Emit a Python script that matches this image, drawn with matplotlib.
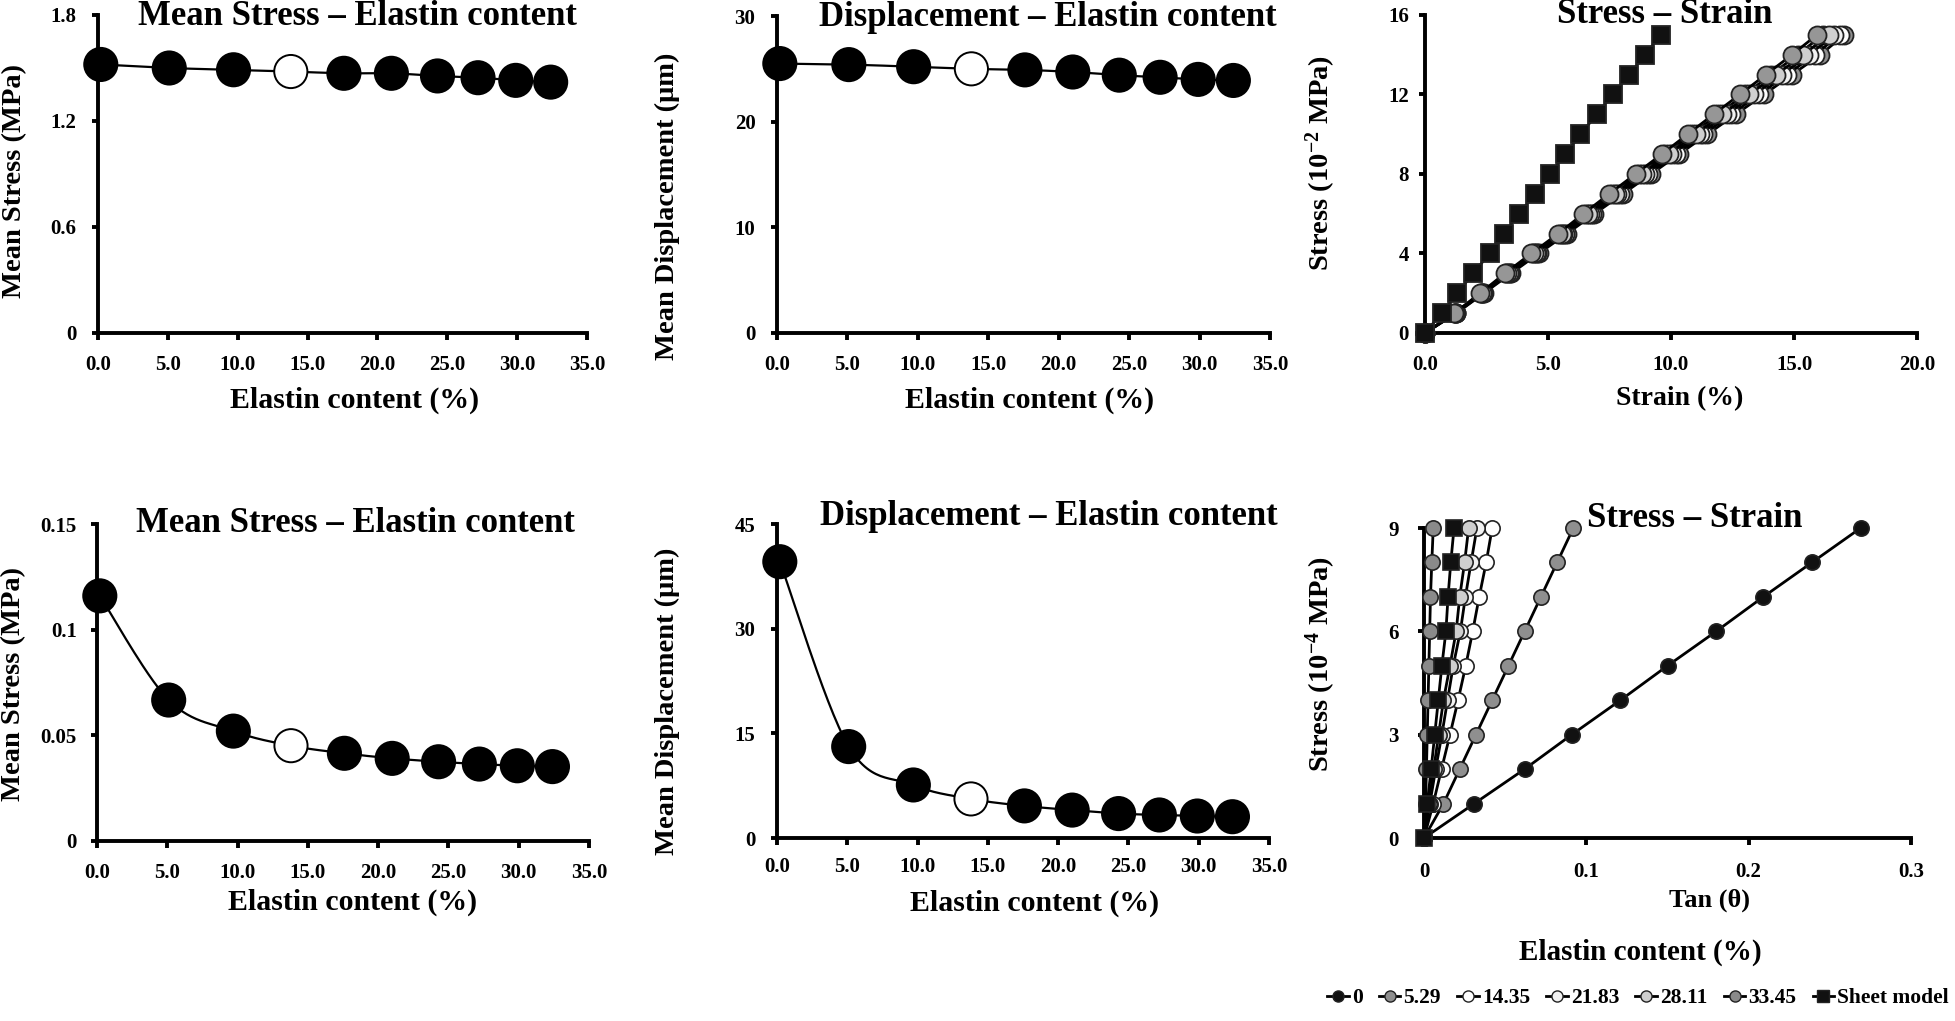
import numpy as np
import matplotlib
matplotlib.use('Agg')
import matplotlib.pyplot as plt
from matplotlib.lines import Line2D

plt.rcParams['font.family'] = ['Liberation Serif', 'DejaVu Serif']
plt.rcParams['font.weight'] = 'bold'
plt.rcParams['mathtext.fontset'] = 'custom'
plt.rcParams['mathtext.rm'] = 'Liberation Serif:bold'
plt.rcParams['mathtext.it'] = 'Liberation Serif:bold'
plt.rcParams['mathtext.bf'] = 'Liberation Serif:bold'
plt.rcParams['mathtext.default'] = 'rm'

# ---------------- data ----------------
elastin = [0.2, 5.1, 9.7, 13.8, 17.6, 21.0, 24.3, 27.2, 29.9, 32.4]
open_idx = 3
stress_top = [1.52, 1.50, 1.49, 1.48, 1.47, 1.47, 1.455, 1.445, 1.43, 1.42]
disp_top = [25.5, 25.4, 25.2, 25.0, 24.9, 24.7, 24.4, 24.2, 24.0, 23.9]
stress_bot = [0.116, 0.0667, 0.052, 0.0451, 0.0415, 0.0391, 0.0375, 0.0364, 0.0356, 0.0352]
disp_bot = [39.6, 13.1, 7.6, 5.6, 4.6, 4.0, 3.5, 3.3, 3.15, 3.05]

series_labels = ['0', '5.29', '14.35', '21.83', '28.11', '33.45', 'Sheet model']
series_colors = ['#111111', '#8f8f8f', '#ffffff', '#f2f2f2', '#cfcfcf', '#8a8a8a', '#111111']

# top-right: stress (10^-2 MPa) vs strain (%)
ss_stress = [0, 1, 2, 3, 4, 5, 6, 7, 8, 9, 10, 11, 12, 13, 14, 15]
ss_strain = {
    '0':     [0, 1.21, 2.27, 3.30, 4.38, 5.49, 6.53, 7.60, 8.69, 9.77, 10.84, 11.91, 13.00, 14.07, 15.15, 16.17],
    '5.29':  [0, 1.28, 2.39, 3.50, 4.62, 5.77, 6.89, 8.04, 9.19, 10.33, 11.48, 12.63, 13.78, 14.92, 16.07, 17.05],
    '14.35': [0, 1.26, 2.36, 3.45, 4.56, 5.70, 6.80, 7.93, 9.07, 10.19, 11.32, 12.45, 13.58, 14.71, 15.84, 16.86],
    '21.83': [0, 1.25, 2.33, 3.40, 4.50, 5.63, 6.71, 7.82, 8.94, 10.05, 11.16, 12.27, 13.39, 14.50, 15.61, 16.64],
    '28.11': [0, 1.23, 2.30, 3.35, 4.44, 5.56, 6.62, 7.71, 8.82, 9.91, 11.00, 12.09, 13.19, 14.28, 15.38, 16.41],
    '33.45': [0, 1.19, 2.24, 3.25, 4.32, 5.42, 6.44, 7.49, 8.56, 9.63, 10.68, 11.73, 12.80, 13.86, 14.92, 15.93],
    'Sheet model': [0, 0.68, 1.32, 1.95, 2.63, 3.22, 3.81, 4.49, 5.08, 5.71, 6.32, 6.98, 7.63, 8.30, 8.95, 9.58],
}

# bottom-right: stress (10^-4 MPa) vs tan(theta)
st_stress = [0, 1, 2, 3, 4, 5, 6, 7, 8, 9]
st_tan = {
    '0':     [0, 0.031, 0.062, 0.091, 0.121, 0.150, 0.180, 0.209, 0.239, 0.269],
    '5.29':  [0, 0.012, 0.022, 0.032, 0.042, 0.052, 0.062, 0.072, 0.082, 0.092],
    '14.35': [0, 0.0057, 0.0108, 0.016, 0.021, 0.0257, 0.030, 0.034, 0.0383, 0.042],
    '21.83': [0, 0.0036, 0.0072, 0.011, 0.0145, 0.018, 0.0224, 0.0255, 0.029, 0.0326],
    '28.11': [0, 0.003, 0.006, 0.009, 0.012, 0.016, 0.0198, 0.022, 0.025, 0.0275],
    '33.45': [0, 0.001, 0.0015, 0.002, 0.0025, 0.003, 0.0035, 0.004, 0.0048, 0.0057],
    'Sheet model': [0, 0.002, 0.0044, 0.0066, 0.0088, 0.011, 0.0135, 0.0148, 0.0165, 0.0185],
}


# ---------------- helpers ----------------
def smooth(x, y, n=30):
    p = np.column_stack([x, y]).astype(float)
    m = len(p)
    pts = [p[0]]
    t = np.linspace(0, 1, n)[1:, None]
    for i in range(m - 1):
        p0 = p[i - 1] if i > 0 else p[i]
        p1, p2 = p[i], p[i + 1]
        p3 = p[i + 2] if i + 2 < m else p[i + 1]
        c1 = p1 + (p2 - p0) / 6.0
        c2 = p2 - (p3 - p1) / 6.0
        seg = (1 - t) ** 3 * p1 + 3 * (1 - t) ** 2 * t * c1 + 3 * (1 - t) * t ** 2 * c2 + t ** 3 * p2
        pts.extend(seg)
    return np.array(pts)


TICK_FS = 15


def style(ax, xlim, ylim, xticks, xtl, yticks, ytl, xpad, ypad):
    ax.set_xlim(xlim)
    ax.set_ylim(ylim)
    for s in ['top', 'right']:
        ax.spines[s].set_visible(False)
    for s in ['left', 'bottom']:
        ax.spines[s].set_linewidth(2.8)
        ax.spines[s].set_zorder(2)
    ax.set_xticks(xticks)
    ax.set_xticklabels(xtl)
    ax.set_yticks(yticks)
    ax.set_yticklabels(ytl)
    ax.tick_params(axis='x', direction='out', length=5, width=2.8, labelsize=TICK_FS, pad=xpad)
    ax.tick_params(axis='y', direction='out', length=4.5, width=2.8, labelsize=TICK_FS, pad=ypad)
    ax.patch.set_alpha(0)


def texts(ax, title, tpos, xlabel, xpos, ylabel, ypos, xl_size=21.5, yl_size=20.5):
    ax.text(tpos[0], tpos[1], title, transform=ax.transAxes, ha='center', va='baseline',
            fontsize=25, fontweight='bold')
    ax.text(xpos[0], xpos[1], xlabel, transform=ax.transAxes, ha='center', va='baseline',
            fontsize=xl_size, fontweight='bold')
    ax.text(ypos[0], ypos[1], ylabel, transform=ax.transAxes, ha='center', va='center',
            rotation=90, fontsize=yl_size, fontweight='bold')


def elastin_panel(ax, y):
    c = smooth(elastin, y)
    ax.plot(c[:, 0], c[:, 1], color='black', lw=1.6, zorder=3, clip_on=False)
    fills = ['white' if i == open_idx else 'black' for i in range(len(elastin))]
    ax.scatter(elastin, y, s=570, c=fills, edgecolors='black', linewidths=1.4, zorder=4, clip_on=False)


fig = plt.figure(figsize=(19.55, 10.21), dpi=100)
W, H = 1955.0, 1021.0


def add_ax(l, r, t, b):
    return fig.add_axes([l / W, 1 - b / H, (r - l) / W, (b - t) / H])


ax_tl = add_ax(98, 587, 15, 333)
ax_tm = add_ax(777, 1270, 16, 333)
ax_tr = add_ax(1425, 1917, 15, 333)
ax_bl = add_ax(97, 589, 524, 841)
ax_bm = add_ax(777, 1269, 524, 838)
ax_br = add_ax(1424, 1911, 528, 838)

xt = [0, 5, 10, 15, 20, 25, 30, 35]
xtl = ['0.0', '5.0', '10.0', '15.0', '20.0', '25.0', '30.0', '35.0']

# top-left
elastin_panel(ax_tl, stress_top)
style(ax_tl, (0, 35), (0, 1.8), xt, xtl, [0, 0.6, 1.2, 1.8], ['0', '0.6', '1.2', '1.8'], 11, 11)
texts(ax_tl, 'Mean Stress \u2013 Elastin content', (0.53, 0.969), 'Elastin content (%)', (0.525, -0.236),
      'Mean Stress (MPa)', (-0.170, 0.478))

# top-middle
elastin_panel(ax_tm, disp_top)
style(ax_tm, (0, 35), (0, 30), xt, xtl, [0, 10, 20, 30], ['0', '10', '20', '30'], 11, 11)
texts(ax_tm, 'Displacement \u2013 Elastin content', (0.549, 0.969), 'Elastin content (%)', (0.513, -0.236),
      'Mean Displacement (\u03bcm)', (-0.223, 0.40))

# bottom-left
elastin_panel(ax_bl, stress_bot)
style(ax_bl, (0, 35), (0, 0.15), xt, xtl, [0, 0.05, 0.1, 0.15], ['0', '0.05', '0.1', '0.15'], 11, 10)
texts(ax_bl, 'Mean Stress \u2013 Elastin content', (0.525, 0.976), 'Elastin content (%)', (0.519, -0.218),
      'Mean Stress (MPa)', (-0.169, 0.495))

# bottom-middle
elastin_panel(ax_bm, disp_bot)
style(ax_bm, (0, 35), (0, 45), xt, xtl, [0, 15, 30, 45], ['0', '15', '30', '45'], 9, 11)
texts(ax_bm, 'Displacement \u2013 Elastin content', (0.553, 0.997), 'Elastin content (%)', (0.523, -0.232),
      'Mean Displacement (\u03bcm)', (-0.223, 0.436))

# top-right
tr_order = ['0', '5.29', '14.35', '21.83', '28.11', '33.45', 'Sheet model']
for lab in tr_order:
    col = series_colors[series_labels.index(lab)]
    mk = 's' if lab == 'Sheet model' else 'o'
    ms = 12.5 if lab == 'Sheet model' else 13
    ax_tr.plot(ss_strain[lab], ss_stress, color='black', lw=2.0, marker=mk, markersize=ms,
               markerfacecolor=col if lab != '33.45' else '#969696', markeredgecolor='#222222',
               markeredgewidth=1.3, zorder=4, clip_on=False)
style(ax_tr, (0, 20), (0, 16), [0, 5, 10, 15, 20], ['0.0', '5.0', '10.0', '15.0', '20.0'],
      [0, 4, 8, 12, 16], ['0', '4', '8', '12', '16'], 11, 7)
texts(ax_tr, 'Stress \u2013 Strain', (0.488, 0.975), 'Strain (%)', (0.517, -0.228),
      'Stress (10$^{-2}$ MPa)', (-0.211, 0.535), xl_size=20)

# bottom-right
br_order = ['0', '5.29', '14.35', '21.83', '28.11', '33.45', 'Sheet model']
for lab in br_order:
    col = series_colors[series_labels.index(lab)]
    mk = 's' if lab == 'Sheet model' else 'o'
    ax_br.plot(st_tan[lab], st_stress, color='black', lw=2.0, marker=mk, markersize=11,
               markerfacecolor=col, markeredgecolor='#222222', markeredgewidth=1.2,
               zorder=4, clip_on=False)
style(ax_br, (0, 0.3), (0, 9), [0, 0.1, 0.2, 0.3], ['0', '0.1', '0.2', '0.3'],
      [0, 3, 6, 9], ['0', '3', '6', '9'], 12, 13.5)
texts(ax_br, 'Stress \u2013 Strain', (0.555, 1.004), 'Tan (\u03b8)', (0.586, -0.22),
      'Stress (10$^{-4}$ MPa)', (-0.211, 0.561), xl_size=19)
ax_br.text(0.445, -0.394, 'Elastin content (%)', transform=ax_br.transAxes, ha='center',
           va='baseline', fontsize=21, fontweight='bold')

handles = []
for lab, col in zip(series_labels, series_colors):
    mk = 's' if lab == 'Sheet model' else 'o'
    handles.append(Line2D([], [], color='black', lw=2.0, marker=mk, markersize=8,
                          markerfacecolor=col, markeredgecolor='#222222', markeredgewidth=1.0))
fig.legend(handles, series_labels, loc='center', bbox_to_anchor=(1638 / W, 1 - 998 / H), ncol=7,
           frameon=False, fontsize=15.5, handlelength=1.0, handletextpad=0.15, columnspacing=0.75,
           borderpad=0, borderaxespad=0)

fig.savefig('out.png', dpi=100)
